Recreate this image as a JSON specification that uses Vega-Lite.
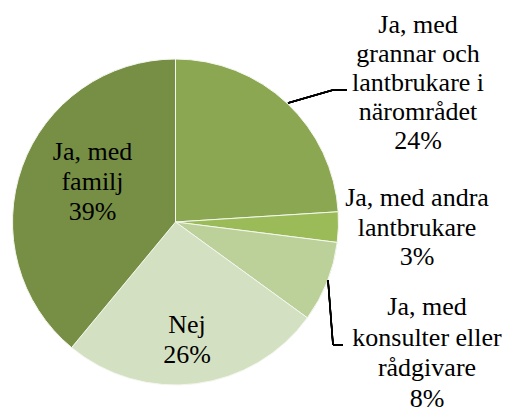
{
  "$schema": "https://vega.github.io/schema/vega-lite/v6.json",
  "width": 505,
  "height": 410,
  "padding": 0,
  "autosize": {"type": "none"},
  "background": "white",
  "config": {"view": {"stroke": null}, "font": "Times New Roman", "text": {"font": "Times New Roman"}},
  "data": {
    "values": [
      {"key": "grannar", "label": "Ja, med grannar och lantbrukare i närområdet", "value": 24, "idx": 1},
      {"key": "andra", "label": "Ja, med andra lantbrukare", "value": 3, "idx": 2},
      {"key": "konsulter", "label": "Ja, med konsulter eller rådgivare", "value": 8, "idx": 3},
      {"key": "nej", "label": "Nej", "value": 26, "idx": 4},
      {"key": "familj", "label": "Ja, med familj", "value": 39, "idx": 5}
    ]
  },
  "layer": [
    {
      "mark": {"type": "arc", "outerRadius": 163, "stroke": "#f4f7ee", "strokeWidth": 1},
      "encoding": {
        "x": {"datum": 175.5, "type": "quantitative", "scale": {"domain": [0, 505], "range": [0, 505], "nice": false, "zero": false}, "axis": null},
        "y": {"datum": 222, "type": "quantitative", "scale": {"domain": [0, 410], "range": [0, 410], "nice": false, "zero": false}, "axis": null},
        "theta": {"field": "value", "type": "quantitative", "stack": true},
        "order": {"field": "idx", "type": "quantitative"},
        "color": {
          "field": "key", "type": "nominal", "legend": null,
          "scale": {
            "domain": ["grannar", "andra", "konsulter", "nej", "familj"],
            "range": ["#8BA751", "#9BBB59", "#BCD09A", "#D4E0C2", "#778F45"]
          }
        }
      }
    },
    {
      "mark": {"type": "rule", "color": "black", "strokeWidth": 1.5},
      "encoding": {
        "x": {"datum": 288, "type": "quantitative"},
        "y": {"datum": 103, "type": "quantitative"},
        "x2": {"datum": 333},
        "y2": {"datum": 90}
      }
    },
    {
      "mark": {"type": "rule", "color": "black", "strokeWidth": 1.5},
      "encoding": {
        "x": {"datum": 333, "type": "quantitative"},
        "y": {"datum": 90, "type": "quantitative"},
        "x2": {"datum": 347},
        "y2": {"datum": 90}
      }
    },
    {
      "mark": {"type": "rule", "color": "black", "strokeWidth": 1.5},
      "encoding": {
        "x": {"datum": 328, "type": "quantitative"},
        "y": {"datum": 280, "type": "quantitative"},
        "x2": {"datum": 333},
        "y2": {"datum": 345}
      }
    },
    {
      "mark": {"type": "rule", "color": "black", "strokeWidth": 1.5},
      "encoding": {
        "x": {"datum": 333, "type": "quantitative"},
        "y": {"datum": 345, "type": "quantitative"},
        "x2": {"datum": 343},
        "y2": {"datum": 345}
      }
    },
    {
      "transform": [{"filter": "datum.key === 'grannar'"}],
      "mark": {"type": "text", "font": "Times New Roman", "fontSize": 26, "lineHeight": 29, "align": "center", "baseline": "middle", "color": "black"},
      "encoding": {
        "x": {"datum": 418, "type": "quantitative"},
        "y": {"datum": 25, "type": "quantitative"},
        "text": {"value": ["Ja, med", "grannar och", "lantbrukare i", "närområdet", "24%"]}
      }
    },
    {
      "transform": [{"filter": "datum.key === 'andra'"}],
      "mark": {"type": "text", "font": "Times New Roman", "fontSize": 26, "lineHeight": 29.5, "align": "center", "baseline": "middle", "color": "black"},
      "encoding": {
        "x": {"datum": 417, "type": "quantitative"},
        "y": {"datum": 198, "type": "quantitative"},
        "text": {"value": ["Ja, med andra", "lantbrukare", "3%"]}
      }
    },
    {
      "transform": [{"filter": "datum.key === 'konsulter'"}],
      "mark": {"type": "text", "font": "Times New Roman", "fontSize": 26, "lineHeight": 30.5, "align": "center", "baseline": "middle", "color": "black"},
      "encoding": {
        "x": {"datum": 427, "type": "quantitative"},
        "y": {"datum": 307, "type": "quantitative"},
        "text": {"value": ["Ja, med", "konsulter eller", "rådgivare", "8%"]}
      }
    },
    {
      "transform": [{"filter": "datum.key === 'nej'"}],
      "mark": {"type": "text", "font": "Times New Roman", "fontSize": 26, "lineHeight": 30, "align": "center", "baseline": "middle", "color": "black"},
      "encoding": {
        "x": {"datum": 187, "type": "quantitative"},
        "y": {"datum": 325, "type": "quantitative"},
        "text": {"value": ["Nej", "26%"]}
      }
    },
    {
      "transform": [{"filter": "datum.key === 'familj'"}],
      "mark": {"type": "text", "font": "Times New Roman", "fontSize": 26, "lineHeight": 30, "align": "center", "baseline": "middle", "color": "black"},
      "encoding": {
        "x": {"datum": 92.5, "type": "quantitative"},
        "y": {"datum": 152, "type": "quantitative"},
        "text": {"value": ["Ja, med", "familj", "39%"]}
      }
    }
  ]
}
